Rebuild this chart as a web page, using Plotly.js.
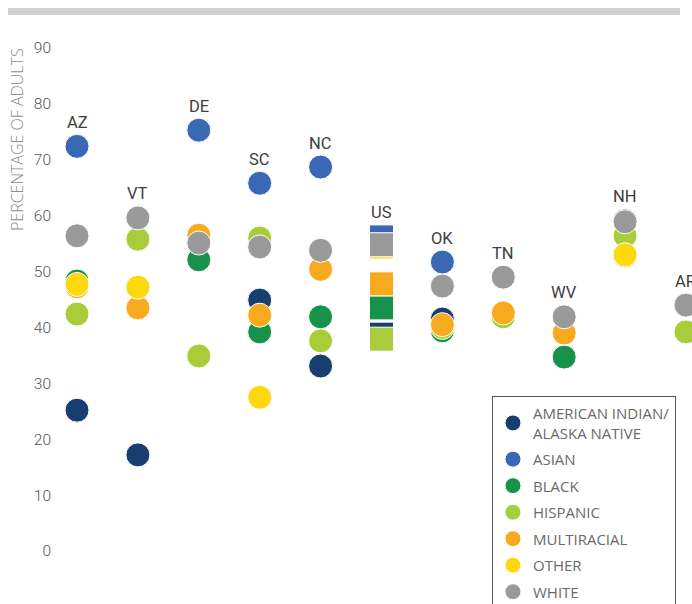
<!DOCTYPE html>
<html>
<head>
<meta charset="utf-8">
<script src="https://cdn.plot.ly/plotly-3.0.1.min.js"></script>
<style>html,body{margin:0;padding:0;background:#fff;}#chart{width:692px;height:604px;}</style>
</head>
<body>
<div id="chart"></div>
<script>
// ---- data ----
const states = ["AZ","VT","DE","SC","NC","US","OK","TN","WV","NH","AR"];
const groups = ["AMERICAN INDIAN/<br>ALASKA NATIVE","ASIAN","BLACK","HISPANIC","MULTIRACIAL","OTHER","WHITE"];
const aian        = [25.2, 17.2, null, 44.9, 33.1, 38.8, 41.5, null, null, null, null];
const asian       = [72.4, null, 75.3, 65.8, 68.7, 56.2, 51.7, null, null, 59.1, null];
const black       = [48.3, null, 52.1, 39.2, 41.9, 43.5, 39.4, null, 34.7, null, null];
const hispanic    = [42.4, 55.8, 34.9, 56.0, 37.6, 37.9, 40.0, 41.9, null, 56.4, 39.2];
const multiracial = [47.3, 43.5, 56.5, 42.2, 50.4, 47.8, 40.5, 42.6, 39.0, 52.8, null];
const other       = [47.7, 47.2, null, 27.5, null, 54.4, null, null, null, 53.0, null];
const white       = [56.4, 59.6, 55.1, 54.4, 53.8, 54.8, 47.4, 49.0, 41.9, 58.9, 44.0];
const yTicks = [0,10,20,30,40,50,60,70,80,90];
const yTitle = "PERCENTAGE OF ADULTS";

// ---- styles ----
const series = [aian, asian, black, hispanic, multiracial, other, white];
const colors = ["#173e6e","#3b68b4","#17924a","#a9cd3a","#f8aa1f","#fdd80d","#9a9a9a"];
const idx = states.map((s,i)=>i);
const symbols = states.map(s => s === "US" ? "square" : "circle");

const traces = series.map((vals, k) => ({
  type: "scatter", mode: "markers",
  x: idx, y: vals, name: groups[k],
  legendgroup: "g" + k,
  cliponaxis: false,
  marker: {size: 24, color: colors[k], symbol: symbols, line: {color: "#ffffff", width: 1}},
  hoverinfo: "y+name"
}));

// state labels above highest mark
const annotations = states.map((s, i) => {
  const vals = series.map(a => a[i]).filter(v => v !== null);
  return {x: i, y: Math.max(...vals), xref: "x", yref: "y", text: s, showarrow: false,
          yshift: 24, font: {family: "Roboto, sans-serif", size: 16.5, color: "#3d3d3d"}};
});
annotations.push({
  xref: "paper", yref: "paper", x: -0.0647, y: 0.81, text: yTitle, textangle: -90,
  showarrow: false, xanchor: "center", yanchor: "middle",
  font: {family: "'Open Sans', sans-serif", size: 16, color: "#8c8c8c", weight: 300}
});

const layout = {
  width: 692, height: 604,
  margin: {l: 58, r: 0, t: 30, b: 0, autoexpand: false},
  paper_bgcolor: "#ffffff", plot_bgcolor: "#ffffff",
  showlegend: true,
  legend: {
    x: 0.6845, y: 0.3625, xanchor: "left", yanchor: "top",
    bordercolor: "#555555", borderwidth: 1, bgcolor: "#ffffff",
    tracegroupgap: 4,
    font: {family: "'Open Sans', sans-serif", size: 15, color: "#6a6a6a"}
  },
  xaxis: {range: [-0.312, 10.099], showgrid: false, zeroline: false, showline: false,
          showticklabels: false, ticks: "", fixedrange: true},
  yaxis: {range: [-9.48, 93.22], showgrid: false, zeroline: false, showline: false,
          tickvals: yTicks, ticktext: yTicks.map(String), ticks: "", ticklabelstandoff: 6,
          tickfont: {family: "Roboto, sans-serif", size: 15.5, color: "#555555", weight: 300}},
  shapes: [{type: "rect", xref: "paper", yref: "paper", x0: -0.0789, x1: 0.981, y0: 1.0261, y1: 1.0383,
            fillcolor: "#cfcfcf", line: {width: 0}}],
  annotations: annotations
};

Plotly.newPlot("chart", traces, layout, {displayModeBar: false, staticPlot: true});
</script>
</body>
</html>
